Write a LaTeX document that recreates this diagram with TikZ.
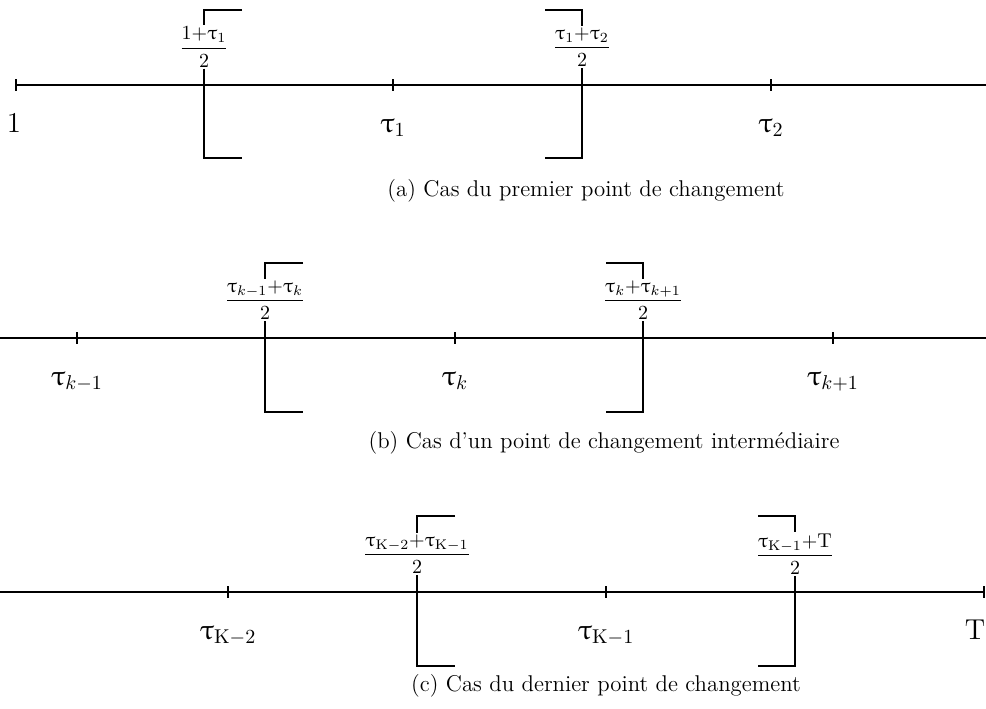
\documentclass[tikz,border=0pt]{standalone}
\usepackage{amsmath}
\usepackage[Euler]{upgreek}
\begin{document}
\begin{tikzpicture}[x=0.5pt,y=-0.5pt,
  axis/.style={line width=1.05pt},
  brk/.style={line width=1.05pt},
  fracnode/.style={fill=white,inner sep=0.6pt,font=\fontsize{9.8}{11}\selectfont},
  lbl/.style={anchor=base,font=\fontsize{14}{16}\selectfont},
  captext/.style={anchor=base,font=\fontsize{11.4}{13}\selectfont}]
\useasboundingbox (0,0) rectangle (986,708);
\def\tk{6}
% ---------------- panel (a)
\coordinate (a0) at (16,85);
\coordinate (aR) at (990,85);
\coordinate (a1) at (393,85);
\coordinate (a2) at (771,85);
\draw[axis] (a0) -- (aR);
\foreach \c in {a0,a1,a2}{\draw[axis] (\c)+(0,-\tk) -- +(0,\tk);}
\node[lbl] (la0) at (14,132) {$1$};
\node[lbl] (la1) at (393,132) {$\uptau_1$};
\node[lbl] (la2) at (771,132) {$\uptau_2$};
\node[fracnode] (fa1) at (204,47) {$\dfrac{1{+}\uptau_1}{2}$};
\node[fracnode] (fa2) at (582,47) {$\dfrac{\uptau_1{+}\uptau_2}{2}$};
\draw[brk] (242,10) -- (204,10) -- (fa1.north);
\draw[brk] (fa1.south) -- (204,158) -- (242,158);
\draw[brk] (545,10) -- (582,10) -- (fa2.north);
\draw[brk] (fa2.south) -- (582,158) -- (545,158);
\node[captext] (capa) at (586,196) {(a) Cas du premier point de changement};
% ---------------- panel (b)
\coordinate (b0) at (-4,338);
\coordinate (bR) at (990,338);
\coordinate (b1) at (77,338);
\coordinate (b2) at (455,338);
\coordinate (b3) at (833,338);
\draw[axis] (b0) -- (bR);
\foreach \c in {b1,b2,b3}{\draw[axis] (\c)+(0,-\tk) -- +(0,\tk);}
\node[lbl] (lb1) at (77,385) {$\uptau_{k-1}$};
\node[lbl] (lb2) at (455,385) {$\uptau_{k}$};
\node[lbl] (lb3) at (833,385) {$\uptau_{k+1}$};
\node[fracnode] (fb1) at (265,300) {$\dfrac{\uptau_{k-1}{+}\uptau_k}{2}$};
\node[fracnode] (fb2) at (643,300) {$\dfrac{\uptau_{k}{+}\uptau_{k+1}}{2}$};
\draw[brk] (303,263) -- (265,263) -- (fb1.north);
\draw[brk] (fb1.south) -- (265,412) -- (303,412);
\draw[brk] (606,263) -- (643,263) -- (fb2.north);
\draw[brk] (fb2.south) -- (643,412) -- (606,412);
\node[captext] (capb) at (604,448) {(b) Cas d'un point de changement intermédiaire};
% ---------------- panel (c)
\coordinate (c0) at (-4,592);
\coordinate (cR) at (984,592);
\coordinate (c1) at (228,592);
\coordinate (c2) at (606,592);
\draw[axis] (c0) -- (cR);
\foreach \c in {c1,c2,cR}{\draw[axis] (\c)+(0,-\tk) -- +(0,\tk);}
\node[lbl] (lc1) at (228,639) {$\uptau_{\mathrm{K}-2}$};
\node[lbl] (lc2) at (606,639) {$\uptau_{\mathrm{K}-1}$};
\node[lbl] (lc3) at (975,639) {$\mathrm{T}$};
\node[fracnode] (fc1) at (417,554) {$\dfrac{\uptau_{\mathrm{K}-2}{+}\uptau_{\mathrm{K}-1}}{2}$};
\node[fracnode] (fc2) at (795,554) {$\dfrac{\uptau_{\mathrm{K}-1}{+}\mathrm{T}}{2}$};
\draw[brk] (455,516) -- (417,516) -- (fc1.north);
\draw[brk] (fc1.south) -- (417,666) -- (455,666);
\draw[brk] (758,516) -- (795,516) -- (fc2.north);
\draw[brk] (fc2.south) -- (795,666) -- (758,666);
\node[captext] (capc) at (606,691) {(c) Cas du dernier point de changement};
\end{tikzpicture}
\end{document}
